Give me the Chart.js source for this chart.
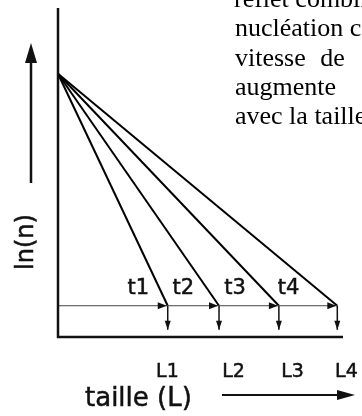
<!DOCTYPE html>
<html>
<head>
<meta charset="utf-8">
<script src="https://cdn.jsdelivr.net/npm/chart.js@4.4.1/dist/chart.umd.min.js"></script>
<style>
html, body { margin: 0; padding: 0; background: #fff; }
body { width: 362px; height: 416px; overflow: hidden; position: relative; }
#chart { position: absolute; left: 0; top: 0; }
.txt {
    position: absolute;
    left: 235px;
    font-family: "Liberation Serif", "Times New Roman", serif;
    font-size: 26px;
    line-height: 26px;
    color: #000;
    white-space: pre;
}
</style>
</head>
<body>
<canvas id="chart" width="362" height="416"></canvas>
<div class="txt" style="top:-14px;left:234px">reflet combin</div>
<div class="txt" style="top:15px">nucléation co</div>
<div class="txt" style="top:45px;word-spacing:8px">vitesse de</div>
<div class="txt" style="top:74px">augmente</div>
<div class="txt" style="top:103px">avec la taille</div>
<script>
// taille atteinte par chaque droite (t1..t4), unites arbitraires
const L_END = [3.85, 5.65, 7.75, 9.8]
const LN_N0 = 8        // ln(n) pour L = 0
const LN_END = 0.95    // ln(n) au bout des droites
const ARROW_FOOT = 0.22

const T_LABELS = ['t1', 't2', 't3', 't4']
const T_X = [2.82, 4.40, 6.21, 8.09]
const T_Y = 1.31

const L_LABELS = ['L1', 'L2', 'L3', 'L4']
const L_X = [3.84, 6.16, 8.23, 10.12]

const ink = '#111'

function seg(points, width, color) {
    return {
        data: points,
        showLine: true,
        borderColor: color,
        borderWidth: width,
        pointRadius: 0,
        tension: 0,
        clip: false
    }
}

function head(ctx, x, y, dx, dy, len, hw) {
    ctx.beginPath()
    ctx.moveTo(x, y)
    ctx.lineTo(x - dx * len - dy * hw, y - dy * len + dx * hw)
    ctx.lineTo(x - dx * len + dy * hw, y - dy * len - dx * hw)
    ctx.closePath()
    ctx.fill()
}

function label(ctx, text, px, py) {
    ctx.fillText(text, px, py)
    ctx.strokeText(text, px, py)
}

const datasets = [
    seg([{ x: 0, y: 10 }, { x: 0, y: 0 }, { x: 10, y: 0 }], 2.5, ink),
    seg([{ x: 0, y: LN_END }, { x: L_END[L_END.length - 1], y: LN_END }], 1, '#444')
]
L_END.forEach(l => {
    datasets.push(seg([{ x: 0, y: LN_N0 }, { x: l, y: LN_END }], 2, '#000'))
    datasets.push(seg([{ x: l, y: LN_END }, { x: l, y: ARROW_FOOT }], 1.5, ink))
})

const decor = {
    id: 'decor',
    afterDatasetsDraw(chart) {
        const { ctx, chartArea: a, scales: { x, y } } = chart
        ctx.save()
        ctx.fillStyle = ink
        ctx.strokeStyle = ink

        // pointes de fleches
        L_END.forEach(l => {
            head(ctx, x.getPixelForValue(l) - 1, y.getPixelForValue(LN_END), 1, 0, 9, 3.5)
            head(ctx, x.getPixelForValue(l), y.getPixelForValue(ARROW_FOOT), 0, 1, 9, 3)
        })

        // t1..t4
        ctx.lineWidth = 0.5
        ctx.font = '21px "DejaVu Sans"'
        ctx.textAlign = 'center'
        ctx.textBaseline = 'alphabetic'
        T_LABELS.forEach((t, i) => label(ctx, t, x.getPixelForValue(T_X[i]), y.getPixelForValue(T_Y)))

        // L1..L4
        ctx.font = '19px "DejaVu Sans"'
        L_LABELS.forEach((t, i) => label(ctx, t, x.getPixelForValue(L_X[i]), a.bottom + 40))

        // axe y : ln(n) + fleche
        const ax = a.left - 27
        ctx.lineWidth = 2.5
        ctx.beginPath()
        ctx.moveTo(ax, a.top + 175)
        ctx.lineTo(ax, a.top + 50)
        ctx.stroke()
        head(ctx, ax, a.top + 35, 0, -1, 20, 6)

        ctx.lineWidth = 0.5
        ctx.save()
        ctx.translate(a.left - 25, a.top + 234)
        ctx.rotate(-Math.PI / 2)
        ctx.font = '24px "DejaVu Sans"'
        label(ctx, 'ln(n)', 0, 0)
        ctx.restore()

        // axe x : taille (L) + fleche
        ctx.font = '26px "DejaVu Sans"'
        ctx.textAlign = 'left'
        label(ctx, 'taille (L)', a.left + 27, a.bottom + 69)
        ctx.lineWidth = 2
        ctx.beginPath()
        ctx.moveTo(a.left + 164, a.bottom + 58)
        ctx.lineTo(a.left + 282, a.bottom + 58)
        ctx.stroke()
        head(ctx, a.left + 297, a.bottom + 58, 1, 0, 18, 5)

        ctx.restore()
    }
}

new Chart(document.getElementById('chart'), {
    type: 'scatter',
    data: { datasets },
    options: {
        responsive: false,
        animation: false,
        layout: { padding: { left: 58, top: 8, right: 19, bottom: 79 } },
        scales: {
            x: { type: 'linear', min: 0, max: 10, display: false },
            y: { type: 'linear', min: 0, max: 10, display: false }
        },
        plugins: {
            legend: { display: false },
            tooltip: { enabled: false }
        }
    },
    plugins: [decor]
})
</script>
</body>
</html>
